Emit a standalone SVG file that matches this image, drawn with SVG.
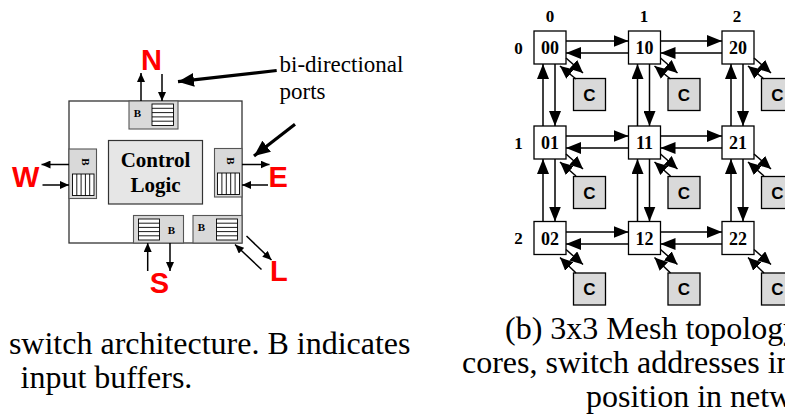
<svg xmlns="http://www.w3.org/2000/svg" width="785" height="417" viewBox="0 0 785 417">
<style>
.bg{fill:#fff}
.sw{fill:#fff;stroke:#333;stroke-width:1.3}
.port{fill:#d9d9d9;stroke:#555;stroke-width:1.1}
.buf{fill:#fff;stroke:#000;stroke-width:0.9}
.bl{stroke:#000;stroke-width:0.9;fill:none}
.cl{fill:#e6e6e6;stroke:#333;stroke-width:1.2}
.node{fill:#fff;stroke:#000;stroke-width:1.3}
.core{fill:#d9d9d9;stroke:#000;stroke-width:1.3}
.ln{stroke:#000;stroke-width:1.5;fill:none}
.lnt{stroke:#000;stroke-width:3.2;fill:none}
.bt{font-family:"Liberation Serif",serif;font-weight:bold;font-size:11px;fill:#000}
.ct{font-family:"Liberation Serif",serif;font-weight:bold;font-size:21px;fill:#000;text-anchor:middle}
.dir{font-family:"Liberation Sans",Arial,sans-serif;font-weight:bold;font-size:29px;fill:#ff0000}
.note{font-family:"Liberation Serif",serif;font-size:23px;fill:#000}
.cap{font-family:"Liberation Serif",serif;font-size:32px;fill:#000}
.nt{font-family:"Liberation Serif",serif;font-weight:bold;font-size:18px;fill:#000;text-anchor:middle}
.lab{font-family:"Liberation Serif",serif;font-weight:bold;font-size:17px;fill:#000;text-anchor:middle}
.ctx{font-family:"Liberation Sans",Arial,sans-serif;font-weight:bold;font-size:17px;fill:#000;text-anchor:middle}
</style>
<defs>
<marker id="sa" markerUnits="userSpaceOnUse" markerWidth="9" markerHeight="8" refX="9" refY="4" orient="auto"><path d="M0,0 L9,4 L0,8 z" fill="#000"/></marker>
<marker id="ta" markerUnits="userSpaceOnUse" markerWidth="16" markerHeight="14" refX="16" refY="7" orient="auto"><path d="M0,0 L16,7 L0,14 z" fill="#000"/></marker>
<marker id="ga" markerUnits="userSpaceOnUse" markerWidth="15" markerHeight="12" refX="15" refY="6" orient="auto"><path d="M0,0 L15,6 L0,12 z" fill="#000"/></marker>
<marker id="ca" markerUnits="userSpaceOnUse" markerWidth="13" markerHeight="12" refX="13" refY="6" orient="auto"><path d="M0,0 L13,6 L0,12 z" fill="#000"/></marker>
</defs>
<rect class="bg" x="0" y="0" width="785" height="417"/>

<!-- (a) switch architecture -->
<g id="switch">
<rect class="sw" x="69" y="101" width="173" height="142"/>
</g>
<g id="control-logic">
<rect class="cl" x="108.5" y="140.5" width="94" height="63.5"/>
<text class="ct" x="155.5" y="167">Control</text>
<text class="ct" x="155.5" y="192">Logic</text>
</g>
<g id="port-n">
<rect class="port" x="129" y="101" width="49" height="28"/>
<text class="bt" x="137.5" y="117" text-anchor="middle">B</text>
<rect class="buf" x="152" y="104" width="21.5" height="21.5"/>
<path class="bl" d="M152,108.3H173.5M152,112.6H173.5M152,116.9H173.5M152,121.2H173.5"/>
</g>
<g id="port-w">
<rect class="port" x="69" y="149" width="27.5" height="49.5"/>
<text class="bt" x="85.5" y="162" text-anchor="middle" transform="rotate(90 85.5 162)" dy="4">B</text>
<rect class="buf" x="72.5" y="174" width="21.5" height="21.5"/>
<path class="bl" d="M76.8,174V195.5M81.1,174V195.5M85.4,174V195.5M89.7,174V195.5"/>
</g>
<g id="port-e">
<rect class="port" x="214.5" y="148.5" width="27.5" height="48.5"/>
<text class="bt" x="230.5" y="161" text-anchor="middle" transform="rotate(90 230.5 161)" dy="4">B</text>
<rect class="buf" x="217.5" y="173" width="22" height="21.5"/>
<path class="bl" d="M221.9,173V194.5M226.3,173V194.5M230.7,173V194.5M235.1,173V194.5"/>
</g>
<g id="port-s">
<rect class="port" x="133.5" y="215.5" width="50" height="27.5"/>
<text class="bt" x="171.5" y="233.5" text-anchor="middle">B</text>
<rect class="buf" x="138.5" y="219" width="21" height="21"/>
<path class="bl" d="M138.5,223.2H159.5M138.5,227.4H159.5M138.5,231.6H159.5M138.5,235.8H159.5"/>
</g>
<g id="port-l">
<rect class="port" x="193" y="215.5" width="49" height="27.5"/>
<text class="bt" x="201.5" y="231" text-anchor="middle">B</text>
<rect class="buf" x="216.5" y="219" width="21" height="21"/>
<path class="bl" d="M216.5,223.2H237.5M216.5,227.4H237.5M216.5,231.6H237.5M216.5,235.8H237.5"/>
</g>
<g id="labels-a">
<text class="dir" x="151.5" y="70" text-anchor="middle">N</text>
<text class="dir" x="12" y="187">W</text>
<text class="dir" x="268.5" y="187">E</text>
<text class="dir" x="159.5" y="293" text-anchor="middle">S</text>
<text class="dir" x="270" y="281">L</text>
<text class="note" x="279.5" y="72">bi-directional</text>
<text class="note" x="279.5" y="98.5">ports</text>
</g>
<g id="connectors-a">
<line class="ln" x1="141" y1="101" x2="141" y2="73" marker-end="url(#sa)"/>
<line class="ln" x1="162" y1="74" x2="162" y2="101" marker-end="url(#sa)"/>
<line class="ln" x1="69" y1="164.5" x2="41.5" y2="164.5" marker-end="url(#sa)"/>
<line class="ln" x1="42.5" y1="185" x2="69" y2="185" marker-end="url(#sa)"/>
<line class="ln" x1="242" y1="164.5" x2="269.5" y2="164.5" marker-end="url(#sa)"/>
<line class="ln" x1="268" y1="185" x2="242" y2="185" marker-end="url(#sa)"/>
<line class="ln" x1="147.7" y1="271" x2="147.7" y2="243" marker-end="url(#sa)"/>
<line class="ln" x1="170" y1="243" x2="170" y2="271" marker-end="url(#sa)"/>
<line class="ln" x1="246.5" y1="236" x2="271.5" y2="260" marker-end="url(#sa)"/>
<line class="ln" x1="261.5" y1="269.5" x2="235" y2="244.5" marker-end="url(#sa)"/>
<line class="lnt" x1="276.7" y1="70.5" x2="178" y2="81.7" marker-end="url(#ta)"/>
<line class="lnt" x1="295" y1="124.3" x2="254" y2="156" marker-end="url(#ta)"/>
</g>

<!-- (b) 3x3 mesh -->
<g id="axis-labels">
<text class="lab" x="550" y="21.5">0</text>
<text class="lab" x="644" y="21.5">1</text>
<text class="lab" x="737" y="21.5">2</text>
<text class="lab" x="518.5" y="53.5">0</text>
<text class="lab" x="518.5" y="148.5">1</text>
<text class="lab" x="518.5" y="243.5">2</text>
</g>
<g id="sw00"><rect class="node" x="534" y="31" width="32" height="33"/><text class="nt" x="550" y="54">00</text></g>
<g id="sw10"><rect class="node" x="628.5" y="31" width="32" height="33"/><text class="nt" x="644.5" y="54">10</text></g>
<g id="sw20"><rect class="node" x="722" y="31" width="32" height="33"/><text class="nt" x="738" y="54">20</text></g>
<g id="sw01"><rect class="node" x="534" y="126" width="32" height="33"/><text class="nt" x="550" y="149">01</text></g>
<g id="sw11"><rect class="node" x="628.5" y="126" width="32" height="33"/><text class="nt" x="644.5" y="149">11</text></g>
<g id="sw21"><rect class="node" x="722" y="126" width="32" height="33"/><text class="nt" x="738" y="149">21</text></g>
<g id="sw02"><rect class="node" x="534" y="221.5" width="32" height="33"/><text class="nt" x="550" y="244.5">02</text></g>
<g id="sw12"><rect class="node" x="628.5" y="221.5" width="32" height="33"/><text class="nt" x="644.5" y="244.5">12</text></g>
<g id="sw22"><rect class="node" x="722" y="221.5" width="32" height="33"/><text class="nt" x="738" y="244.5">22</text></g>

<g id="core00"><rect class="core" x="573.5" y="78.5" width="32" height="32"/><text class="ctx" x="589.5" y="100.5">C</text></g>
<g id="core10"><rect class="core" x="668" y="78.5" width="32" height="32"/><text class="ctx" x="684" y="100.5">C</text></g>
<g id="core20"><rect class="core" x="761.5" y="78.5" width="32" height="32"/><text class="ctx" x="777.5" y="100.5">C</text></g>
<g id="core01"><rect class="core" x="573.5" y="176.5" width="32" height="32"/><text class="ctx" x="589.5" y="198.5">C</text></g>
<g id="core11"><rect class="core" x="668" y="176.5" width="32" height="32"/><text class="ctx" x="684" y="198.5">C</text></g>
<g id="core21"><rect class="core" x="761.5" y="176.5" width="32" height="32"/><text class="ctx" x="777.5" y="198.5">C</text></g>
<g id="core02"><rect class="core" x="573.5" y="273" width="32" height="32"/><text class="ctx" x="589.5" y="295">C</text></g>
<g id="core12"><rect class="core" x="668" y="273" width="32" height="32"/><text class="ctx" x="684" y="295">C</text></g>
<g id="core22"><rect class="core" x="761.5" y="273" width="32" height="32"/><text class="ctx" x="777.5" y="295">C</text></g>

<g id="connectors-b">
<!-- horizontal -->
<line class="ln" x1="566" y1="41" x2="628.5" y2="41" marker-end="url(#ga)"/>
<line class="ln" x1="628.5" y1="53" x2="566" y2="53" marker-end="url(#ga)"/>
<line class="ln" x1="660.5" y1="41" x2="722" y2="41" marker-end="url(#ga)"/>
<line class="ln" x1="722" y1="53" x2="660.5" y2="53" marker-end="url(#ga)"/>
<line class="ln" x1="566" y1="136" x2="628.5" y2="136" marker-end="url(#ga)"/>
<line class="ln" x1="628.5" y1="148" x2="566" y2="148" marker-end="url(#ga)"/>
<line class="ln" x1="660.5" y1="136" x2="722" y2="136" marker-end="url(#ga)"/>
<line class="ln" x1="722" y1="148" x2="660.5" y2="148" marker-end="url(#ga)"/>
<line class="ln" x1="566" y1="232" x2="628.5" y2="232" marker-end="url(#ga)"/>
<line class="ln" x1="628.5" y1="244" x2="566" y2="244" marker-end="url(#ga)"/>
<line class="ln" x1="660.5" y1="232" x2="722" y2="232" marker-end="url(#ga)"/>
<line class="ln" x1="722" y1="244" x2="660.5" y2="244" marker-end="url(#ga)"/>
<!-- vertical -->
<line class="ln" x1="543" y1="126" x2="543" y2="64" marker-end="url(#ga)"/>
<line class="ln" x1="555" y1="64" x2="555" y2="126" marker-end="url(#ga)"/>
<line class="ln" x1="543" y1="221.5" x2="543" y2="159" marker-end="url(#ga)"/>
<line class="ln" x1="555" y1="159" x2="555" y2="221.5" marker-end="url(#ga)"/>
<line class="ln" x1="637.5" y1="126" x2="637.5" y2="64" marker-end="url(#ga)"/>
<line class="ln" x1="649.5" y1="64" x2="649.5" y2="126" marker-end="url(#ga)"/>
<line class="ln" x1="637.5" y1="221.5" x2="637.5" y2="159" marker-end="url(#ga)"/>
<line class="ln" x1="649.5" y1="159" x2="649.5" y2="221.5" marker-end="url(#ga)"/>
<line class="ln" x1="731" y1="126" x2="731" y2="64" marker-end="url(#ga)"/>
<line class="ln" x1="743" y1="64" x2="743" y2="126" marker-end="url(#ga)"/>
<line class="ln" x1="731" y1="221.5" x2="731" y2="159" marker-end="url(#ga)"/>
<line class="ln" x1="743" y1="159" x2="743" y2="221.5" marker-end="url(#ga)"/>
<!-- core links -->
<line class="ln" x1="566" y1="58" x2="583" y2="73" marker-end="url(#ca)"/>
<line class="ln" x1="576" y1="79" x2="560" y2="66" marker-end="url(#ca)"/>
<line class="ln" x1="660.5" y1="58" x2="677.5" y2="73" marker-end="url(#ca)"/>
<line class="ln" x1="670.5" y1="79" x2="654.5" y2="66" marker-end="url(#ca)"/>
<line class="ln" x1="754" y1="58" x2="771" y2="73" marker-end="url(#ca)"/>
<line class="ln" x1="764" y1="79" x2="748" y2="66" marker-end="url(#ca)"/>
<line class="ln" x1="566" y1="154" x2="583" y2="169" marker-end="url(#ca)"/>
<line class="ln" x1="576" y1="176" x2="560" y2="162" marker-end="url(#ca)"/>
<line class="ln" x1="660.5" y1="154" x2="677.5" y2="169" marker-end="url(#ca)"/>
<line class="ln" x1="670.5" y1="176" x2="654.5" y2="162" marker-end="url(#ca)"/>
<line class="ln" x1="754" y1="154" x2="771" y2="169" marker-end="url(#ca)"/>
<line class="ln" x1="764" y1="176" x2="748" y2="162" marker-end="url(#ca)"/>
<line class="ln" x1="566" y1="249.5" x2="583" y2="264.5" marker-end="url(#ca)"/>
<line class="ln" x1="576" y1="273" x2="560" y2="257.5" marker-end="url(#ca)"/>
<line class="ln" x1="660.5" y1="249.5" x2="677.5" y2="264.5" marker-end="url(#ca)"/>
<line class="ln" x1="670.5" y1="273" x2="654.5" y2="257.5" marker-end="url(#ca)"/>
<line class="ln" x1="754" y1="249.5" x2="771" y2="264.5" marker-end="url(#ca)"/>
<line class="ln" x1="764" y1="273" x2="748" y2="257.5" marker-end="url(#ca)"/>
</g>

<g id="captions">
<text class="cap" x="410.5" y="354" text-anchor="end">switch architecture. B indicates</text>
<text class="cap" x="20.5" y="388">input buffers.</text>
<text class="cap" x="505" y="339">(b) 3x3 Mesh topology</text>
<text class="cap" x="462" y="373">cores, switch addresses in</text>
<text class="cap" x="586" y="407">position in network</text>
</g>
</svg>
